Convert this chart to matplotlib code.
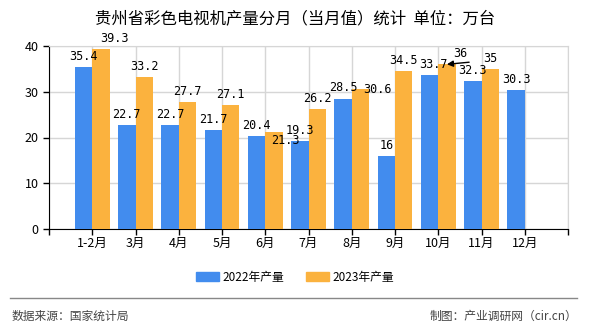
import matplotlib
matplotlib.use("Agg")
import matplotlib.pyplot as plt
from matplotlib.patches import Rectangle
from matplotlib.lines import Line2D
import numpy as np

plt.rcParams['font.family'] = ['Noto Sans CJK SC', 'DejaVu Sans']

categories = ['1-2月', '3月', '4月', '5月', '6月', '7月', '8月', '9月', '10月', '11月', '12月']
values_2022 = [35.4, 22.7, 22.7, 21.7, 20.4, 19.3, 28.5, 16, 33.7, 32.3, 30.3]
values_2023 = [39.3, 33.2, 27.7, 27.1, 21.3, 26.2, 30.6, 34.5, 36, 35, None]
series_names = ['2022年产量', '2023年产量']
yticks = [0, 10, 20, 30, 40]
title = '贵州省彩色电视机产量分月（当月值）统计  单位：万台'
source = '数据来源：国家统计局'
maker = '制图：产业调研网（cir.cn）'

blue = '#428CEE'
orange = '#FBB23E'

fig = plt.figure(figsize=(5.9, 3.3), dpi=100)
ax = fig.add_axes([49/590, 1-229/330, (568-49)/590, (229-46)/330])

x = np.arange(len(categories))
w = 0.4
v22 = np.array(values_2022, dtype=float)
v23 = np.array([np.nan if v is None else v for v in values_2023], dtype=float)
ax.bar(x - w/2, v22, w, color=blue, zorder=3)
ax.bar(x + w/2, v23, w, color=orange, zorder=3)

ax.set_xlim(-1, len(categories))
ax.set_ylim(0, 40)
ax.set_yticks(yticks)
ax.set_xticks(np.arange(-1, len(categories) + 1))
ax.set_xticklabels([''] + categories + [''])
ax.grid(True, color='#d6d6d6', linewidth=1, zorder=0)
for s in ['top', 'right']:
    ax.spines[s].set_color('#d6d6d6')
for s in ['left', 'bottom']:
    ax.spines[s].set_color('black')
ax.tick_params(axis='both', colors='black', labelsize=9, length=4, width=1, direction='out')
ax.tick_params(axis='x', pad=2)

mono = ['DejaVu Sans Mono']
# label nudges (points): index -> (dx, dy)
nudge22 = {8: (3, 0)}
nudge23 = {0: (10, 0), 4: (8, -14), 6: (12, -8)}
for i, v in enumerate(v22):
    dx, dy = nudge22.get(i, (0, 0))
    ax.annotate(f'{v:g}', (x[i] - w/2, v), xytext=(dx, 3 + dy), textcoords='offset points',
                ha='center', va='bottom', fontsize=8.5, family=mono, zorder=5)
for i, v in enumerate(v23):
    if np.isnan(v):
        continue
    dx, dy = nudge23.get(i, (0, 0))
    if i == 8:
        ax.annotate(f'{v:g}', (x[i] + w/2, v), xytext=(10, 3), textcoords='offset points',
                    ha='center', va='bottom', fontsize=8.5, family=mono, zorder=5)
        ax.annotate('', xy=(x[i] + w/2, v), xytext=(16, 1.5), textcoords='offset points',
                    zorder=6,
                    arrowprops=dict(arrowstyle='-|>', color='black', lw=1.0,
                                    shrinkA=0, shrinkB=0, mutation_scale=9))
        continue
    ax.annotate(f'{v:g}', (x[i] + w/2, v), xytext=(dx, 3 + dy), textcoords='offset points',
                ha='center', va='bottom', fontsize=8.5, family=mono, zorder=5)

fig.text(0.5, 1-19/330, title, ha='center', va='center', fontsize=11.8)

# legend
handles = [Rectangle((0, 0), 1, 1, color=blue), Rectangle((0, 0), 1, 1, color=orange)]
fig.legend(handles, series_names, loc='center', bbox_to_anchor=(0.5, 1-277/330), ncol=2,
           frameon=False, fontsize=8.5, handlelength=2.0, handleheight=0.8,
           columnspacing=1.8, handletextpad=0.3)

fig.add_artist(Line2D([10/590, 577/590], [1-298/330, 1-298/330], color='#888888', lw=1))
fig.text(12/590, 1-316/330, source, ha='left', va='center', fontsize=8.5, color='#444444')
fig.text(577/590, 1-316/330, maker, ha='right', va='center', fontsize=8.5, color='#444444')

fig.savefig('out.png', dpi=100)
